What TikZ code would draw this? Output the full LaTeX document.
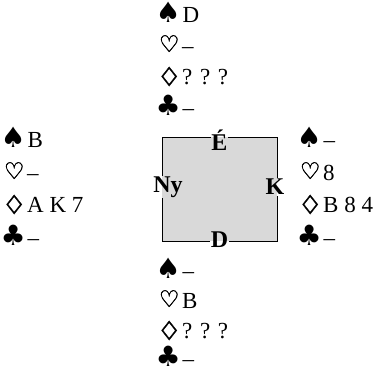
\documentclass[tikz,border=0pt]{standalone}
\usepackage{fontspec}
\setmainfont{Liberation Serif}
\newfontfamily\suitf{DejaVu Sans}
\newfontfamily\suitb[FakeBold=1.6]{DejaVu Sans}
\definecolor{boxgray}{gray}{0.85}
\newcommand{\suitbox}[2]{\makebox[#1][c]{#2}\makebox[26pt-#1]{}}
\newcommand{\Sp}{\makebox[24pt][c]{\suitf\fontsize{28}{28}\selectfont ♠}\hspace{2.5pt}}
\newcommand{\He}{\makebox[26pt][c]{\suitb\fontsize{23}{23}\selectfont \raisebox{1pt}{♡}}}
\newcommand{\Di}{\makebox[26pt][c]{\suitb\fontsize{21}{21}\selectfont \raisebox{1pt}{\scalebox{0.95}[1.2]{◇}}}}
\newcommand{\Cl}{\makebox[24pt][c]{\suitf\fontsize{28}{28}\selectfont ♣}\hspace{2.5pt}}
\begin{document}
\begin{tikzpicture}[x=1pt,y=-1pt,
  hand/.style={anchor=base west,inner sep=0pt,font=\fontsize{23}{23}\selectfont},
  seat/.style={inner sep=0.5pt,font=\fontsize{24}{24}\selectfont\bfseries}]
\useasboundingbox (0,0) rectangle (376,373);
% table
\fill[boxgray] (162,137) rectangle (277,241);
\node[seat] (E) at (219.5,140) {É};
\node[seat] (D) at (219.5,240) {D};
\node[seat] (Ny) at (168,187) {Ny};
\node[seat] (K) at (275,187) {K};
\coordinate (nw) at (162,137);
\coordinate (ne) at (277,137);
\coordinate (sw) at (162,241);
\coordinate (se) at (277,241);
\draw[line width=0.9pt] (E.west |- nw) -- (nw) -- (Ny.north -| nw);
\draw[line width=0.9pt] (E.east |- ne) -- (ne) -- (K.north -| ne);
\draw[line width=0.9pt] (D.west |- sw) -- (sw) -- (Ny.south -| sw);
\draw[line width=0.9pt] (D.east |- se) -- (se) -- (K.south -| se);
% North
\node[hand] (n1) at (156,22) {\Sp D};
\node[hand] (n2) at (156,53) {\He –};
\node[hand] (n3) at (156,84) {\Di ? ? ?};
\node[hand] (n4) at (156,115) {\Cl –};
% West
\node[hand] (w1) at (1,147) {\Sp B};
\node[hand] (w2) at (1,180) {\He –};
\node[hand] (w3) at (1,212) {\Di A K 7};
\node[hand] (w4) at (1,245) {\Cl –};
% East
\node[hand] (e1) at (297,147) {\Sp –};
\node[hand] (e2) at (297,180) {\He 8};
\node[hand] (e3) at (297,212) {\Di B 8 4};
\node[hand] (e4) at (297,245) {\Cl –};
% South
\node[hand] (s1) at (156,278) {\Sp –};
\node[hand] (s2) at (156,308) {\He B};
\node[hand] (s3) at (156,338) {\Di ? ? ?};
\node[hand] (s4) at (156,366) {\Cl –};
\end{tikzpicture}
\end{document}
